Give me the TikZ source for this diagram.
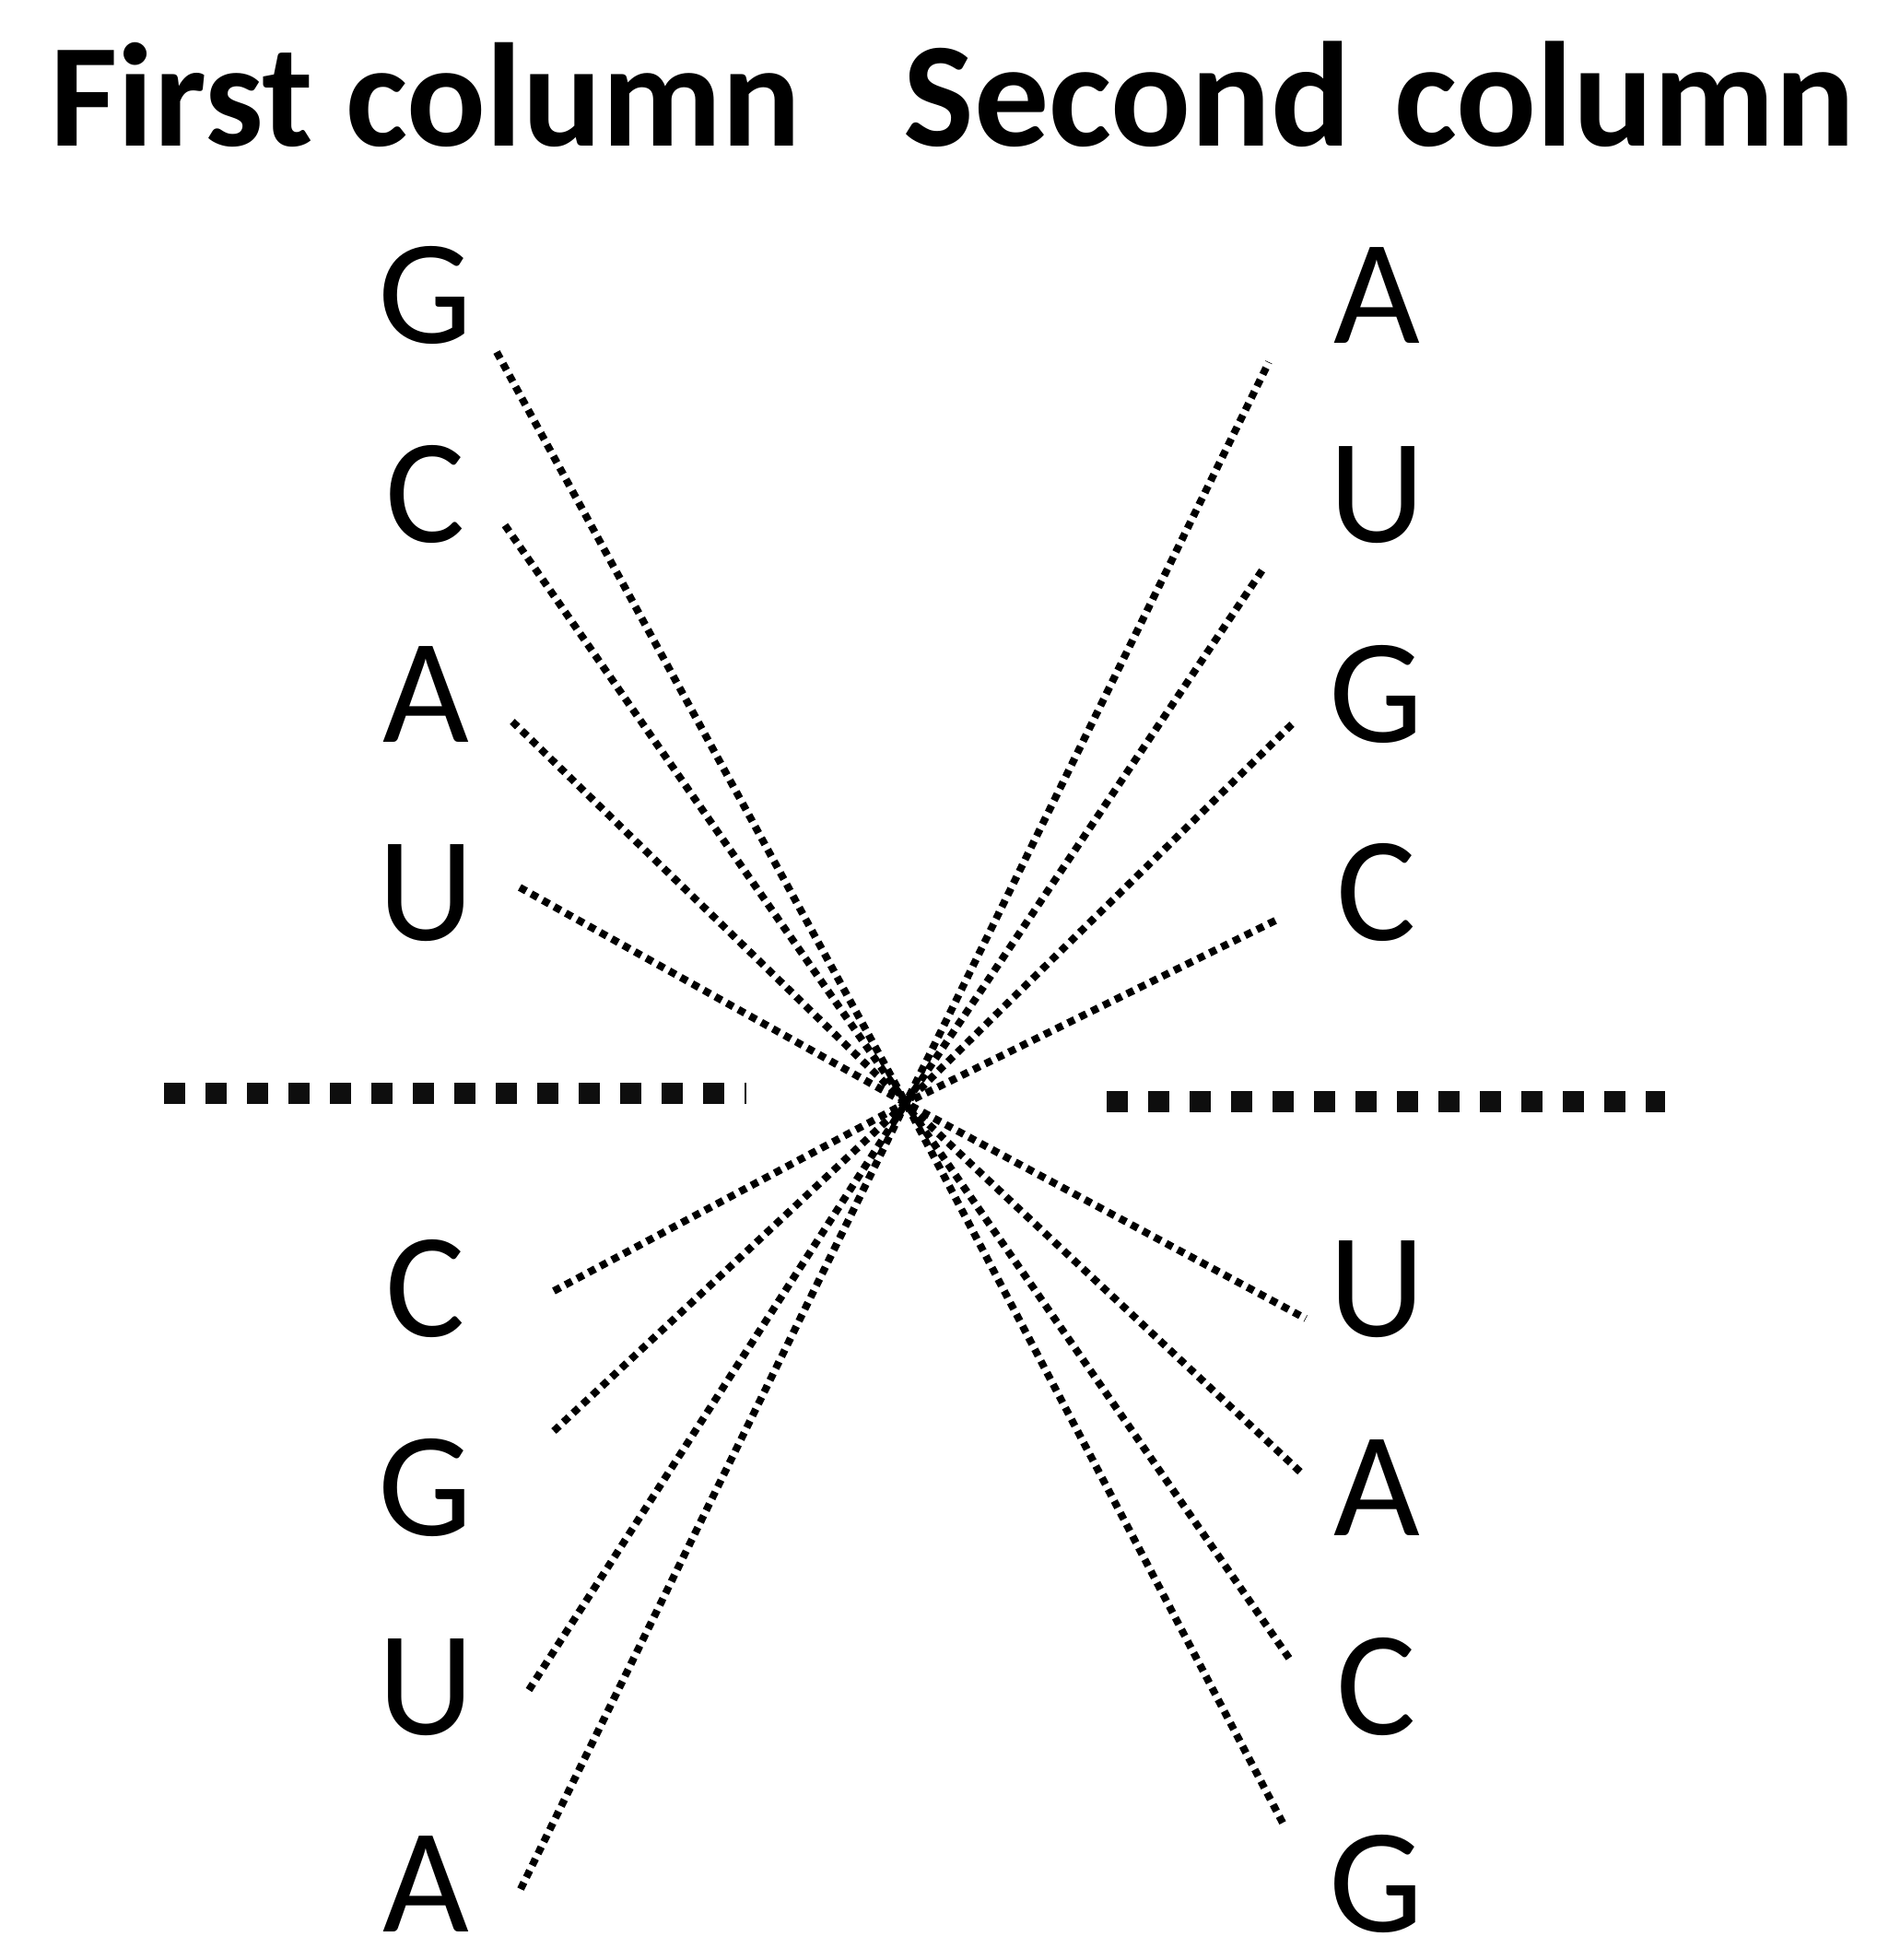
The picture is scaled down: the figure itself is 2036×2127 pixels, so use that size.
\documentclass[tikz,border=0pt]{standalone}
\usepackage{fontspec}
\setmainfont{Carlito}
\definecolor{dashcol}{RGB}{14,14,14}
\begin{document}
\begin{tikzpicture}[x=0.5pt,y=-0.5pt,
  title/.style={anchor=base west,inner sep=0pt,font=\fontsize{80pt}{96pt}\selectfont\bfseries},
  base/.style={anchor=base,inner sep=0pt,font=\fontsize{81pt}{96pt}\selectfont},
  dotline/.style={line width=4pt,dash pattern=on 4pt off 3.15pt},
  sep/.style={line width=11.5pt,dash pattern=on 11.5pt off 11pt,color=dashcol}]
\useasboundingbox (0,0) rectangle (2036,2127);
\fill[white] (0,0) rectangle (2036,2127);
\node[title] (t1) at (54,158) {First column};
\node[title,font=\fontsize{81pt}{96pt}\selectfont\bfseries] (t2) at (980,158) {Second\hspace{5pt} column};
% left column
\node[base] (l1) at (462,372) {G};
\node[base] (l2) at (462,588) {C};
\node[base] (l3) at (462,805) {A};
\node[base] (l4) at (462,1020) {U};
\node[base] (l5) at (462,1450) {C};
\node[base] (l6) at (462,1666) {G};
\node[base] (l7) at (462,1882) {U};
\node[base] (l8) at (462,2096) {A};
% right column
\node[base] (r1) at (1494,372) {A};
\node[base] (r2) at (1494,588) {U};
\node[base] (r3) at (1494,805) {G};
\node[base] (r4) at (1494,1020) {C};
\node[base] (r5) at (1494,1450) {U};
\node[base] (r6) at (1494,1666) {A};
\node[base] (r7) at (1494,1882) {C};
\node[base] (r8) at (1494,2096) {G};
% line ends
\coordinate (c) at (983,1197);
\coordinate (a1) at (539,382);
\coordinate (a2) at (548,570);
\coordinate (a3) at (556,783);
\coordinate (a4) at (564,963);
\coordinate (a5) at (601,1401);
\coordinate (a6) at (601,1553);
\coordinate (a7) at (574,1834);
\coordinate (a8) at (565,2050);
\coordinate (b1) at (1377,393);
\coordinate (b2) at (1373,614);
\coordinate (b3) at (1404,784);
\coordinate (b4) at (1388,997);
\coordinate (b5) at (1417,1431);
\coordinate (b6) at (1415,1601);
\coordinate (b7) at (1400,1801);
\coordinate (b8) at (1393,1980);
\draw[dotline] (a1) -- (c) -- (b8);
\draw[dotline] (a2) -- (c) -- (b7);
\draw[dotline] (a3) -- (c) -- (b6);
\draw[dotline] (a4) -- (c) -- (b5);
\draw[dotline] (a5) -- (c) -- (b4);
\draw[dotline] (a6) -- (c) -- (b3);
\draw[dotline] (a7) -- (c) -- (b2);
\draw[dotline] (a8) -- (c) -- (b1);
% separators
\coordinate (s1) at (178,1186);
\coordinate (s2) at (810,1186);
\coordinate (s3) at (1201,1195);
\coordinate (s4) at (1807,1195);
\draw[sep] (s1) -- (s2);
\draw[sep] (s3) -- (s4);
\end{tikzpicture}
\end{document}
